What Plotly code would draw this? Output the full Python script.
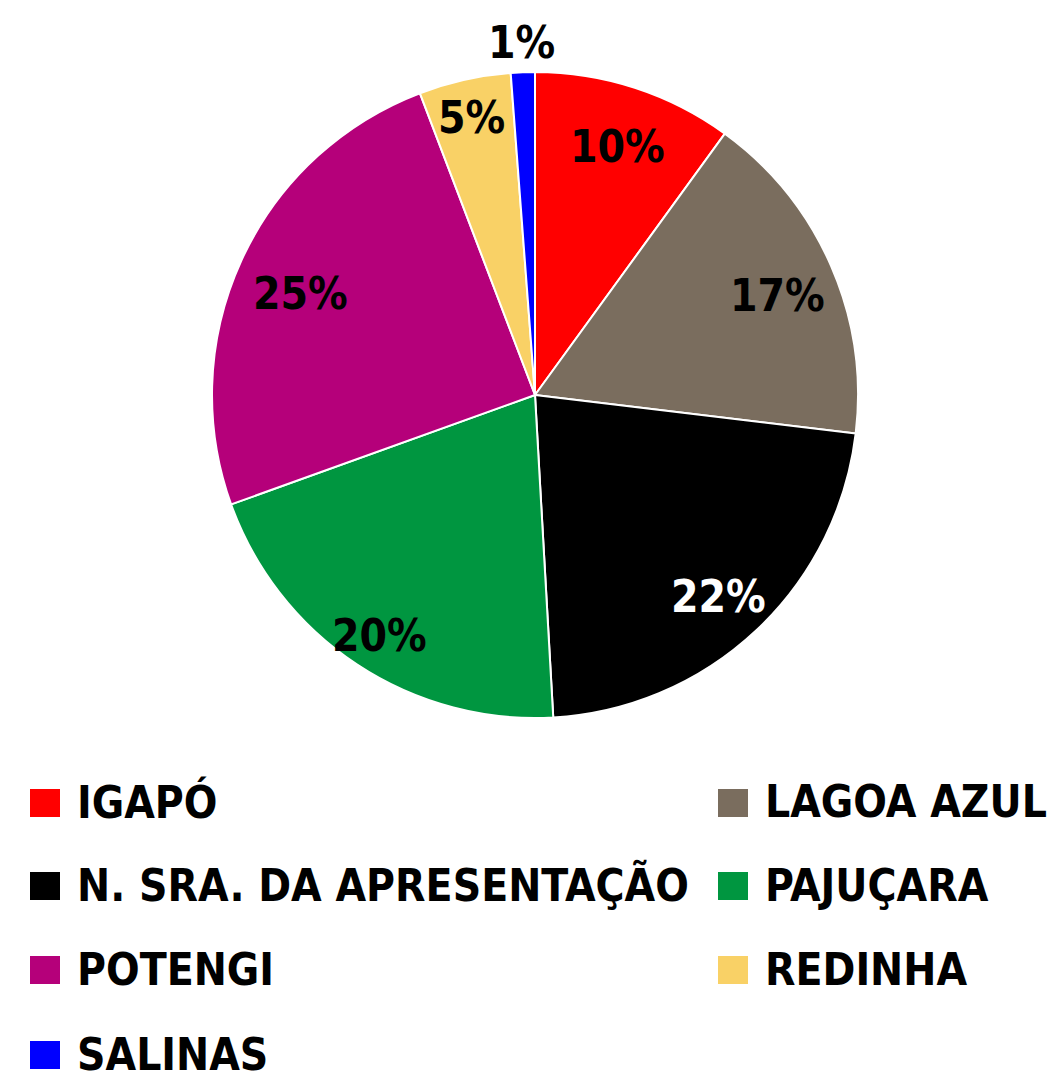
import math
import plotly.graph_objects as go

# Share of each neighbourhood (percent)
bairros = ["IGAPÓ", "LAGOA AZUL", "N. SRA. DA APRESENTAÇÃO", "PAJUÇARA",
           "POTENGI", "REDINHA", "SALINAS"]
valores = [10.0, 16.9, 22.2, 20.4, 24.7, 4.6, 1.2]
cores = ["#FF0000", "#7A6D5E", "#000000", "#009640", "#B5007A", "#F9D166", "#0000FF"]
cores_texto = ["black", "black", "white", "black", "black", "black", "black"]
# radial position of each percentage label, as a fraction of the radius
raio_rotulo = [0.83, 0.82, 0.83, 0.87, 0.80, 0.90, 1.11]

W, H = 1063, 1088
FONTE = "DejaVu Sans Condensed, Liberation Sans Narrow, sans-serif"
TAM = 44

cx, cy, r = 535, 395, 323

fig = go.Figure(go.Pie(
    labels=bairros,
    values=valores,
    sort=False,
    direction="clockwise",
    rotation=0,
    marker=dict(colors=cores, line=dict(color="white", width=2)),
    textinfo="none",
    domain=dict(x=[(cx - r) / W, (cx + r) / W], y=[(H - cy - r) / H, (H - cy + r) / H]),
    showlegend=False,
    hoverinfo="label+percent",
))

annots, shapes = [], []

# Percentage labels placed along each slice's mid-angle
total = sum(valores)
acum = 0.0
for v, cor_t, fr in zip(valores, cores_texto, raio_rotulo):
    meio = (acum + v / 2) / total * 2 * math.pi
    acum += v
    px = cx + fr * r * math.sin(meio)
    py = cy - fr * r * math.cos(meio) + 6
    pct = int(math.floor(v / total * 100 + 0.5))
    annots.append(dict(text=f"{pct}%", xref="paper", yref="paper",
                       x=px / W, y=(H - py) / H, xanchor="center", yanchor="middle",
                       showarrow=False,
                       font=dict(size=TAM, color=cor_t, family=FONTE, weight="bold")))

# Two-column legend under the pie
col_x = [30, 718]
row_y = [803, 886, 970, 1055]
for i, (nome, cor) in enumerate(zip(bairros, cores)):
    x0 = col_x[i % 2]
    yc = row_y[i // 2]
    shapes.append(dict(type="rect", xref="paper", yref="paper",
                       x0=x0 / W, x1=(x0 + 30) / W,
                       y0=(H - yc - 14) / H, y1=(H - yc + 14) / H,
                       fillcolor=cor, line=dict(width=0)))
    annots.append(dict(text=nome, xref="paper", yref="paper",
                       x=(x0 + 45) / W, y=(H - yc + 1) / H,
                       xanchor="left", yanchor="middle", showarrow=False,
                       font=dict(size=TAM, color="black", family=FONTE, weight="bold")))

fig.update_layout(
    width=W, height=H,
    margin=dict(l=0, r=0, t=0, b=0),
    paper_bgcolor="white",
    plot_bgcolor="white",
    shapes=shapes,
    annotations=annots,
)

fig.write_html("out.html")
